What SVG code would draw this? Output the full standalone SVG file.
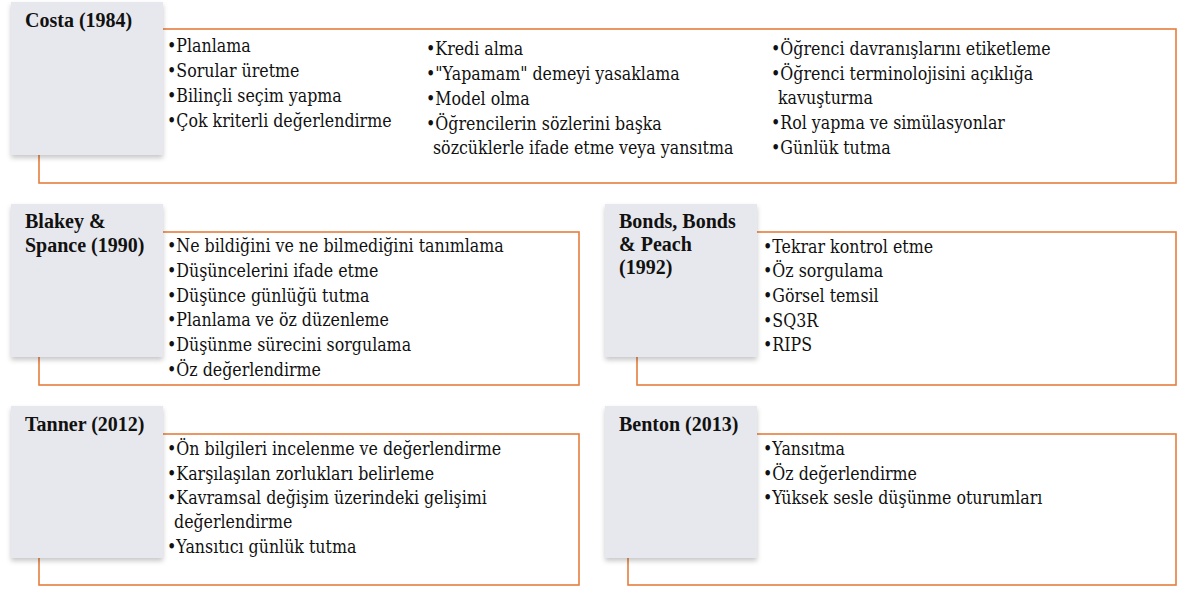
<svg xmlns="http://www.w3.org/2000/svg" width="1177" height="590" viewBox="0 0 1177 590">
<style>
.frame{fill:#fff;stroke:#E57E3E;stroke-width:1.6}
.head{fill:#E7E8ED;filter:url(#sh)}
text{font-family:"DejaVu Serif Condensed","DejaVu Serif",serif;font-stretch:condensed;font-size:17.6px;fill:#111}
text.title{font-family:"Liberation Serif","Times New Roman",serif;font-stretch:normal;font-size:20px;font-weight:700}
</style>
<defs>
<filter id="sh" x="-20%" y="-20%" width="140%" height="140%">
<feDropShadow dx="0" dy="3" stdDeviation="2.5" flood-color="#000" flood-opacity="0.22"/>
</filter>
</defs>
<rect width="1177" height="590" fill="#fff"/>
<g id="connectors">
<rect class="frame" x="39" y="29" width="1137" height="154"/>
<rect class="frame" x="39" y="232" width="540" height="153"/>
<rect class="frame" x="637" y="232" width="539" height="153"/>
<rect class="frame" x="39" y="434" width="540" height="151"/>
<rect class="frame" x="628" y="434" width="548" height="151"/>
</g>
<g id="costa">
<rect class="head" x="11" y="2" width="152" height="153"/>
<text class="title" x="25" y="27">Costa (1984)</text>
<text x="167" y="52">•Planlama</text>
<text x="167" y="77">•Sorular üretme</text>
<text x="167" y="102">•Bilinçli seçim yapma</text>
<text x="167" y="127">•Çok kriterli değerlendirme</text>
<text x="426" y="55">•Kredi alma</text>
<text x="426" y="80">•"Yapamam" demeyi yasaklama</text>
<text x="426" y="105">•Model olma</text>
<text x="426" y="130">•Öğrencilerin sözlerini başka</text>
<text x="433" y="154">sözcüklerle ifade etme veya yansıtma</text>
<text x="771" y="55">•Öğrenci davranışlarını etiketleme</text>
<text x="771" y="80">•Öğrenci terminolojisini açıklığa</text>
<text x="778" y="104">kavuşturma</text>
<text x="771" y="129">•Rol yapma ve simülasyonlar</text>
<text x="771" y="154">•Günlük tutma</text>
</g>
<g id="blakey">
<rect class="head" x="11" y="204" width="152" height="153"/>
<text class="title" x="25" y="228">Blakey &amp;</text>
<text class="title" x="25" y="252">Spance (1990)</text>
<text x="167" y="252">•Ne bildiğini ve ne bilmediğini tanımlama</text>
<text x="167" y="277">•Düşüncelerini ifade etme</text>
<text x="167" y="302">•Düşünce günlüğü tutma</text>
<text x="167" y="326">•Planlama ve öz düzenleme</text>
<text x="167" y="351">•Düşünme sürecini sorgulama</text>
<text x="167" y="376">•Öz değerlendirme</text>
</g>
<g id="bonds">
<rect class="head" x="605" y="204" width="152" height="153"/>
<text class="title" x="619" y="228">Bonds, Bonds</text>
<text class="title" x="619" y="251">&amp; Peach</text>
<text class="title" x="619" y="274">(1992)</text>
<text x="763" y="253">•Tekrar kontrol etme</text>
<text x="763" y="277">•Öz sorgulama</text>
<text x="763" y="302">•Görsel temsil</text>
<text x="763" y="327">•SQ3R</text>
<text x="763" y="351">•RIPS</text>
</g>
<g id="tanner">
<rect class="head" x="11" y="406" width="152" height="152"/>
<text class="title" x="25" y="431">Tanner (2012)</text>
<text x="167" y="455">•Ön bilgileri incelenme ve değerlendirme</text>
<text x="167" y="480">•Karşılaşılan zorlukları belirleme</text>
<text x="167" y="504">•Kavramsal değişim üzerindeki gelişimi</text>
<text x="174" y="528">değerlendirme</text>
<text x="167" y="553">•Yansıtıcı günlük tutma</text>
</g>
<g id="benton">
<rect class="head" x="605" y="406" width="152" height="152"/>
<text class="title" x="619" y="431">Benton (2013)</text>
<text x="763" y="455">•Yansıtma</text>
<text x="763" y="480">•Öz değerlendirme</text>
<text x="763" y="504">•Yüksek sesle düşünme oturumları</text>
</g>
</svg>
